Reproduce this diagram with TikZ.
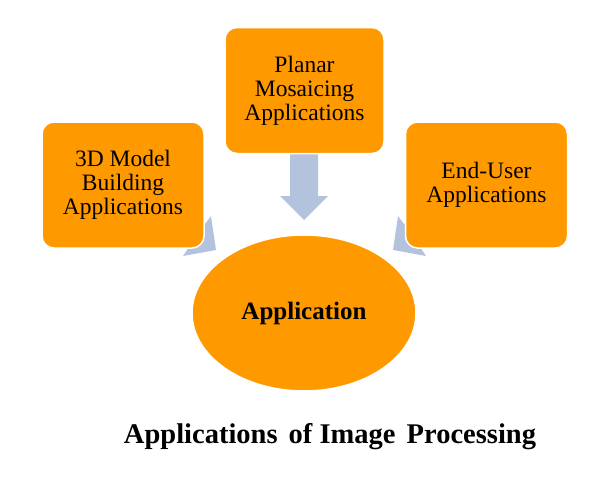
\documentclass[tikz,border=0pt]{standalone}
\usepackage{fontspec}
\setmainfont{Liberation Serif}
\newfontfamily\tnr{Liberation Serif}
\usetikzlibrary{shapes.geometric}
\definecolor{boxorange}{RGB}{255,153,0}
\definecolor{arrowblue}{RGB}{180,195,221}
\tikzset{
  appbox/.style={fill=boxorange, draw=white, line width=1.5pt, rounded corners=12pt, align=center, inner sep=0pt, font=\tnr\fontsize{23.5}{24}\selectfont},
}
\begin{document}
\begin{tikzpicture}[x=1pt,y=-1pt]
\useasboundingbox (0,0) rectangle (610,482);
% arrows (beneath the boxes)
\fill[arrowblue] (290,150) -- (318,150) -- (318,196) -- (328,196) -- (304,220) -- (280,196) -- (290,196) -- cycle;
\fill[arrowblue] (156,225) -- (172,201) -- (205,224) -- (211,216) -- (216,250) -- (183,256) -- (189,247) -- cycle;
\fill[arrowblue] (453,225) -- (437,201) -- (404,224) -- (398,216) -- (393,250) -- (426,256) -- (420,247) -- cycle;
% boxes
\node[appbox, minimum width=159pt, minimum height=126pt] (top) at (304.5,90.5) {Planar\\Mosaicing\\Applications};
\node[appbox, minimum width=162pt, minimum height=126pt] (left) at (123,185) {3D Model\\Building\\Applications};
\node[appbox, minimum width=162pt, minimum height=126pt] (right) at (486.5,185) {End-User\\Applications};
\node[ellipse, fill=boxorange, draw=white, line width=1.5pt, minimum width=224pt, minimum height=156pt, font=\tnr\bfseries\fontsize{25}{28}\selectfont] (center) at (304,313) {Application};
\node[font=\tnr\bfseries\fontsize{28.5}{32}\selectfont] (title) at (330,437) {Applications\hspace{4pt} of Image\hspace{4pt} Processing};
\end{tikzpicture}
\end{document}
